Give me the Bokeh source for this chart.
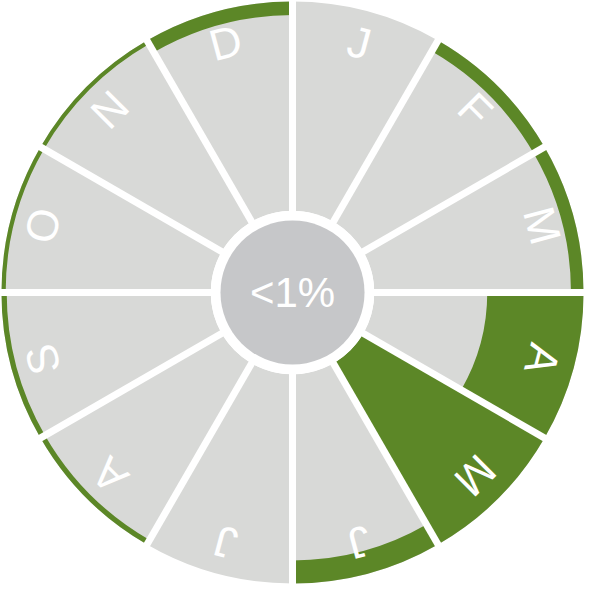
import math
from bokeh.plotting import figure
from bokeh.models import ColumnDataSource
from bokeh.core.properties import value
from bokeh.embed import file_html
from bokeh.resources import INLINE

# Data
months = ["J", "F", "M", "A", "M", "J", "J", "A", "S", "O", "N", "D"]
green_share = [0.0, 0.06, 0.06, 0.46, 1.0, 0.11, 0.0, 0.025, 0.025, 0.02, 0.02, 0.065]
center_label = "<1%"

R_OUT = 299
R_IN = 84
R_CENTER = 74
R_LABEL = 266

GREY = "#d8d9d7"
CENTER_GREY = "#c6c7c9"
GREEN = "#5c8727"

n = len(months)
step = 2 * math.pi / n
starts, ends, mids, inner_g = [], [], [], []
for i, s in enumerate(green_share):
    end = math.pi / 2 - i * step
    start = end - step
    starts.append(start)
    ends.append(end)
    mids.append((start + end) / 2)
    inner_g.append(R_OUT - s * (R_OUT - R_IN))

src = ColumnDataSource(dict(
    start=starts, end=ends, inner_g=inner_g, share=green_share,
    lx=[R_LABEL * math.cos(m) for m in mids],
    ly=[R_LABEL * math.sin(m) for m in mids],
    ang=[m - math.pi / 2 for m in mids],
    label=months,
))

W = 584
p = figure(width=W, height=W, x_range=(-300, 300), y_range=(-300, 300),
           output_backend="svg", toolbar_location=None, min_border=0)
p.axis.visible = False
p.grid.visible = False
p.outline_line_color = None
p.background_fill_color = "white"
p.border_fill_color = "white"

p.annular_wedge(x=0, y=0, inner_radius=R_IN, outer_radius=R_OUT,
                start_angle="start", end_angle="end", source=src,
                fill_color=GREY, line_color=None)

gsrc = ColumnDataSource(dict(
    start=[s for s, v in zip(starts, green_share) if v > 0],
    end=[e for e, v in zip(ends, green_share) if v > 0],
    inner_g=[g for g, v in zip(inner_g, green_share) if v > 0],
))
p.annular_wedge(x=0, y=0, inner_radius="inner_g", outer_radius=R_OUT,
                start_angle="start", end_angle="end", source=gsrc,
                fill_color=GREEN, line_color=None)

# white separators
sep_x0, sep_y0, sep_x1, sep_y1 = [], [], [], []
for e in ends:
    sep_x0.append(60 * math.cos(e)); sep_y0.append(60 * math.sin(e))
    sep_x1.append(310 * math.cos(e)); sep_y1.append(310 * math.sin(e))
p.segment(x0=sep_x0, y0=sep_y0, x1=sep_x1, y1=sep_y1, line_color="white", line_width=7)

# white ring + center circle
p.circle(x=0, y=0, radius=R_IN, fill_color="white", line_color=None)
p.circle(x=0, y=0, radius=R_CENTER, fill_color=CENTER_GREY, line_color=None)

p.text(x="lx", y="ly", text="label", angle="ang", source=src,
       text_color="white", text_font=value("Liberation Sans"), text_font_size="44px",
       text_align="center", text_baseline="middle")

p.text(x=[0], y=[0], text=[center_label], text_color="white",
       text_font=value("Liberation Sans"), text_font_size="42px",
       text_align="center", text_baseline="middle")

open("out.html", "w").write(file_html(p, INLINE))
